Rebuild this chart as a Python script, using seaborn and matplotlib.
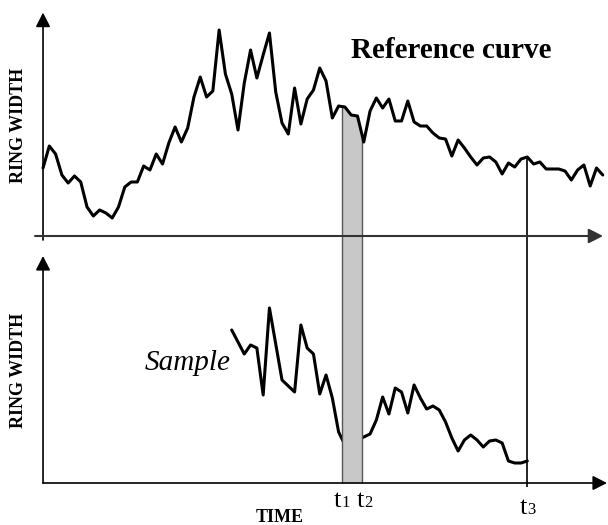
import numpy as np
import pandas as pd
import matplotlib
matplotlib.use("Agg")
import matplotlib.pyplot as plt
import seaborn as sns

# ---------------- data ----------------
ref_start_year = 1850
reference_width = [
    3.40, 4.50, 4.10, 3.05, 2.65, 3.00, 2.70, 1.45, 1.00, 1.30,
    1.15, 0.90, 1.45, 2.45, 2.70, 2.70, 3.50, 3.30, 4.10, 3.60,
    4.65, 5.45, 4.70, 5.40, 6.95, 7.95, 6.95, 7.25, 10.30, 8.10,
    7.10, 5.30, 7.65, 9.30, 7.90, 9.05, 10.15, 7.20, 5.65, 5.10,
    7.40, 5.60, 6.85, 7.30, 8.40, 7.75, 5.90, 6.50, 6.45, 6.05,
    6.00, 4.70, 6.25, 6.90, 6.40, 6.85, 5.75, 5.75, 6.75, 5.70,
    5.50, 5.50, 5.15, 4.90, 4.85, 4.00, 4.80, 4.40, 3.95, 3.55,
    3.90, 3.95, 3.70, 3.10, 3.65, 3.45, 3.85, 3.95, 3.60, 3.70,
    3.35, 3.35, 3.35, 3.25, 2.80, 3.30, 3.55, 2.50, 3.40, 3.05,
]
sample_start_year = 1880
sample_width = [
    7.65, 7.05, 6.45, 6.90, 6.75, 4.40, 8.75, 6.95, 5.15, 4.85,
    4.55, 7.90, 6.75, 6.45, 4.45, 5.40, 4.25, 2.55, 1.90, 1.90,
    2.15, 2.30, 2.45, 3.15, 4.30, 3.45, 4.75, 4.55, 3.50, 4.90,
    4.25, 3.70, 3.85, 3.65, 3.05, 2.25, 1.60, 2.15, 2.40, 2.15,
    1.80, 2.10, 2.15, 2.00, 1.10, 1.00, 1.00, 1.10,
]
t1, t2, t3 = 1897.5, 1900.7, 1927.0
marker_names = ["t", "t", "t"]
marker_digits = ["1", "2", "3"]
title_text = "Reference curve"
sample_text = "Sample"
y_label = "RING WIDTH"
x_label = "TIME"

ref_years = np.arange(ref_start_year, ref_start_year + len(reference_width))
sample_years = np.arange(sample_start_year, sample_start_year + len(sample_width))

# vertical offset of the upper (reference) panel baseline
OFFSET = 12.35

ref_df = pd.DataFrame({"year": ref_years, "width": np.array(reference_width) + OFFSET})
smp_df = pd.DataFrame({"year": sample_years, "width": sample_width})

# ---------------- style ----------------
sns.set_style("white")
SERIF = ["Liberation Serif", "DejaVu Serif"]
plt.rcParams["font.family"] = SERIF
plt.rcParams["text.color"] = "black"

fig = plt.figure(figsize=(6.08, 5.25), dpi=100)
ax = fig.add_axes([0, 0, 1, 1])
ax.set_xlim(1843.16, 1939.83)
ax.set_ylim(-2.1, 24.15)
ax.axis("off")

# curves
sns.lineplot(data=smp_df, x="year", y="width", ax=ax, color="black",
             lw=2.2, estimator=None, zorder=1)
sns.lineplot(data=ref_df, x="year", y="width", ax=ax, color="black",
             lw=2.2, estimator=None, zorder=5)

# shaded band between t1 and t2
xs = np.linspace(t1, t2, 60)
upper = np.interp(xs, ref_years, ref_df["width"])
ax.fill_between(xs, 0, upper, color="#c8c8c8", lw=0, zorder=2)
ax.vlines([t1, t2], 0, np.interp([t1, t2], ref_years, ref_df["width"]),
          colors="#555555", lw=1.0, zorder=2.5)

# t3 line
ax.vlines([t3], -0.2, np.interp(t3, ref_years, ref_df["width"]),
          colors="black", lw=1.2, zorder=3)


def arrow(x0, y0, x1, y1, color="black", lw=1.2):
    ax.annotate("", xy=(x1, y1), xytext=(x0, y0),
                arrowprops=dict(arrowstyle="-|>,head_length=0.43,head_width=0.22",
                                color=color, lw=lw, shrinkA=0, shrinkB=0,
                                mutation_scale=20),
                zorder=4)


# axes of upper panel
arrow(1850, 12.15, 1850, 23.52)
arrow(1848.73, OFFSET, 1939.03, OFFSET, color="#333333", lw=1.5)
# axes of lower panel
arrow(1850, 0, 1850, 11.35)
arrow(1850, 0, 1939.67, 0)

# texts
ax.text(1914.86, 21.6, title_text, ha="center", va="center",
        fontsize=21, fontweight="bold", color="black")
ax.text(1846.03, 17.9, y_label, ha="center", va="center", rotation=90,
        fontsize=13, fontweight="bold", color="black")
ax.text(1846.03, 5.65, y_label, ha="center", va="center", rotation=90,
        fontsize=13, fontweight="bold", color="black")
ax.text(1887.68, -1.75, x_label, ha="center", va="center",
        fontsize=13, fontweight="bold", color="black")
ax.text(1872.97, 5.65, sample_text, ha="center", va="baseline",
        fontsize=21, style="italic", color="black")

label_pos = [(1897.38, -1.2), (1901.04, -1.2), (1926.95, -1.55)]
for (lx, ly), name, dig in zip(label_pos, marker_names, marker_digits):
    ax.text(lx, ly, name, ha="right", va="baseline", fontsize=19, color="black")
    ax.text(lx, ly, dig, ha="left", va="baseline", fontsize=12, color="black")

fig.savefig("out.png", dpi=100)
